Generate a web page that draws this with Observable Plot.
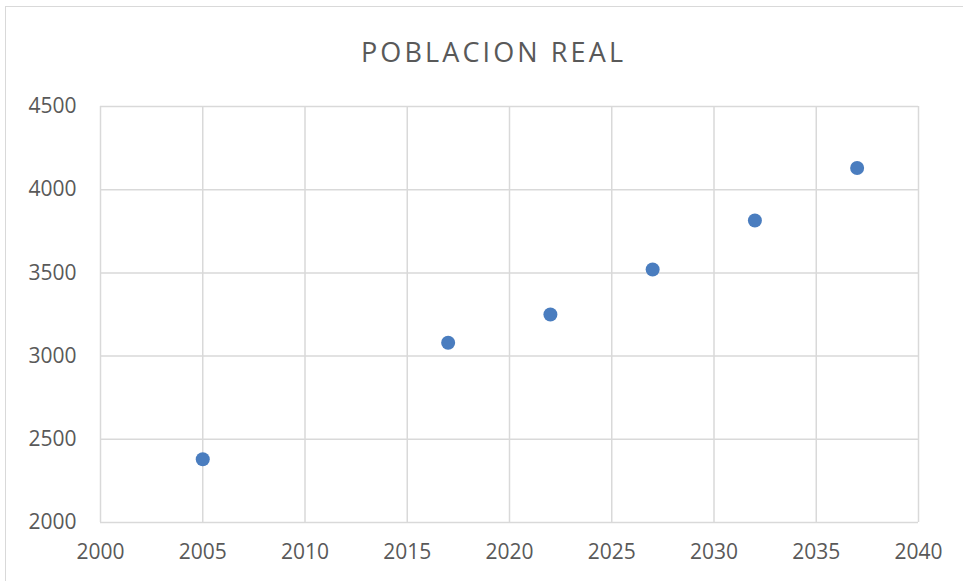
<!DOCTYPE html>
<html>
<head>
<meta charset="utf-8">
<script src="https://cdn.jsdelivr.net/npm/d3@7"></script>
<script src="https://cdn.jsdelivr.net/npm/@observablehq/plot@0.6"></script>
<style>
  html, body { margin: 0; padding: 0; background: #fff; overflow: hidden; }
  #wrap { position: relative; width: 963px; height: 581px; overflow: hidden; }
  #frame { position: absolute; left: 5px; top: 6px; width: 1100px; height: 1100px; border: 1px solid #d9d9d9; box-sizing: border-box; }
  #title { position: absolute; left: 0; top: 38px; width: 984px; text-align: center; font-family: "Open Sans", sans-serif; font-size: 27px; line-height: 27px; color: #595959; white-space: nowrap; }
  #chart { position: absolute; left: 0; top: 0; }
</style>
</head>
<body>
<div id="wrap">
  <div id="frame"></div>
  <div id="title"><span id="tt">POBLACION REAL</span></div>
  <div id="chart"></div>
</div>
<script>
const years = [2005, 2017, 2022, 2027, 2032, 2037];
const population = [2380, 3080, 3250, 3520, 3815, 4130];
const xTicks = [2000, 2005, 2010, 2015, 2020, 2025, 2030, 2035, 2040];
const yTicks = [2000, 2500, 3000, 3500, 4000, 4500];
const titleText = "POBLACION REAL";

const data = years.map((y, i) => ({year: y, value: population[i]}));
const gridColor = "#d9d9d9";

const plot = Plot.plot({
  width: 963,
  height: 581,
  marginLeft: 100,
  marginRight: 45,
  marginTop: 106,
  marginBottom: 59,
  style: {fontFamily: "Open Sans, sans-serif", fontSize: "21px", color: "#595959", background: "transparent", overflow: "visible"},
  x: {domain: [2000, 2040]},
  y: {domain: [2000, 4500]},
  marks: [
    Plot.ruleX(xTicks, {x: d => d, stroke: gridColor, strokeWidth: 1.5}),
    Plot.ruleY(yTicks, {y: d => d, stroke: gridColor, strokeWidth: 1.5}),
    Plot.dot(data, {x: "year", y: "value", r: 7, fill: "#4a7dbf", stroke: "none"}),
    Plot.axisX({ticks: xTicks, tickSize: 0, tickPadding: 22, tickFormat: d => String(d), label: null}),
    Plot.axisY({ticks: yTicks, tickSize: 0, tickPadding: 24, tickFormat: d => String(d), label: null})
  ]
});
document.getElementById("chart").appendChild(plot);

const tt = document.getElementById("tt");
tt.textContent = titleText;
const w = tt.getBoundingClientRect().width;
const target = 262;
const ls = Math.max(0, (target - w) / (titleText.length - 1));
tt.style.letterSpacing = ls + "px";
tt.style.marginLeft = ls + "px";
</script>
</body>
</html>
